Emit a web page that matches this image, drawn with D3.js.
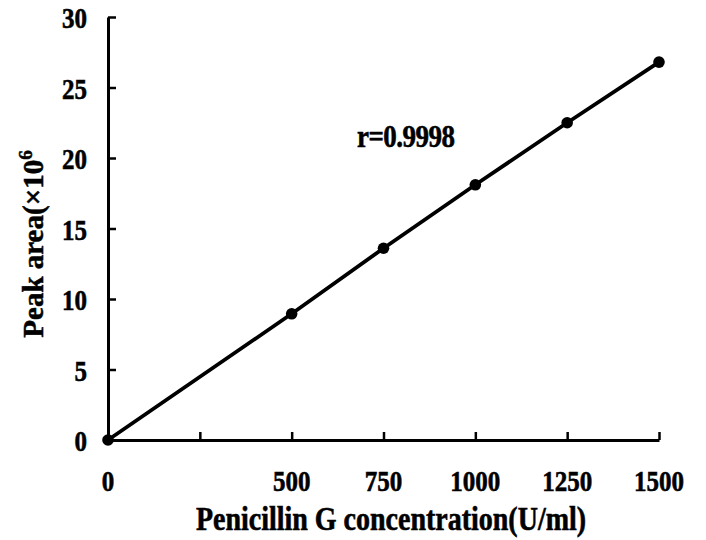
<!DOCTYPE html>
<html>
<head>
<meta charset="utf-8">
<script src="https://cdn.jsdelivr.net/npm/d3@7"></script>
<style>
  html, body { margin: 0; padding: 0; background: #fff; }
  svg { display: block; }
  text { font-family: "Liberation Serif", "Times New Roman", serif; font-weight: bold; fill: #000; stroke: #000; stroke-width: 0.5px; }
</style>
</head>
<body>
<script>
// ---- data ----
const concentration = [0, 500, 750, 1000, 1250, 1500];
const peakArea = [0, 8.95, 13.6, 18.1, 22.5, 26.8];
const xTicks = [0, 250, 500, 750, 1000, 1250, 1500];
const xTickLabels = ["0", "", "500", "750", "1000", "1250", "1500"];
const yTicks = [0, 5, 10, 15, 20, 25, 30];
const yTickLabels = ["0", "5", "10", "15", "20", "25", "30"];
const xTitle = "Penicillin G concentration(U/ml)";
const yTitleMain = "Peak area(×10";
const yTitleSup = "6";
const annotation = "r=0.9998";

const W = 706, H = 540;
const svg = d3.select("body").append("svg").attr("width", W).attr("height", H);

const x = d3.scaleLinear().domain([0, 1500]).range([108, 659]);
const y = d3.scaleLinear().domain([0, 30]).range([440, 17]);

// axes
const gx = svg.append("g").attr("transform", `translate(0,${y(0)})`)
  .call(d3.axisBottom(x).tickValues(xTicks).tickSize(-8).tickSizeOuter(0).tickFormat(""));
const gy = svg.append("g").attr("transform", `translate(${x(0)},0)`)
  .call(d3.axisLeft(y).tickValues(yTicks).tickSize(-8).tickSizeOuter(0).tickFormat(""));
[gx, gy].forEach(g => {
  g.select(".domain").attr("stroke", "#000").attr("stroke-width", 3);
  g.selectAll(".tick line").attr("stroke", "#000").attr("stroke-width", 2.5);
});

// tick labels
svg.append("g").selectAll("text").data(xTicks).join("text")
  .attr("transform", d => `translate(${x(d)},491) scale(1,1.2)`)
  .attr("text-anchor", "middle")
  .style("font-size", "25px")
  .text((d, i) => xTickLabels[i]);

svg.append("g").selectAll("text").data(yTicks).join("text")
  .attr("transform", d => `translate(87,${y(d)}) scale(1,1.2)`)
  .attr("y", 9.2)
  .attr("text-anchor", "end")
  .style("font-size", "25px")
  .text((d, i) => yTickLabels[i]);

// line and points
const pts = concentration.map((c, i) => [c, peakArea[i]]);
svg.append("path").datum(pts)
  .attr("fill", "none").attr("stroke", "#000").attr("stroke-width", 3.8)
  .attr("stroke-linejoin", "round")
  .attr("d", d3.line().x(d => x(d[0])).y(d => y(d[1])));
svg.append("g").selectAll("circle").data(pts).join("circle")
  .attr("cx", d => x(d[0])).attr("cy", d => y(d[1])).attr("r", 5.8).attr("fill", "#000");

// annotation
svg.append("text")
  .attr("transform", "translate(357,147) scale(1,1.2)")
  .style("font-size", "27px")
  .style("letter-spacing", "-0.5px")
  .text(annotation);

// axis titles
svg.append("text")
  .attr("transform", "translate(391,530) scale(1,1.2)")
  .attr("text-anchor", "middle")
  .style("font-size", "28px")
  .text(xTitle);

const yt = svg.append("text")
  .attr("transform", "translate(43,244) rotate(-90)")
  .attr("text-anchor", "middle")
  .style("font-size", "29px");
yt.append("tspan").text(yTitleMain);
yt.append("tspan").attr("dy", -11).style("font-size", "19px").text(yTitleSup);
</script>
</body>
</html>
